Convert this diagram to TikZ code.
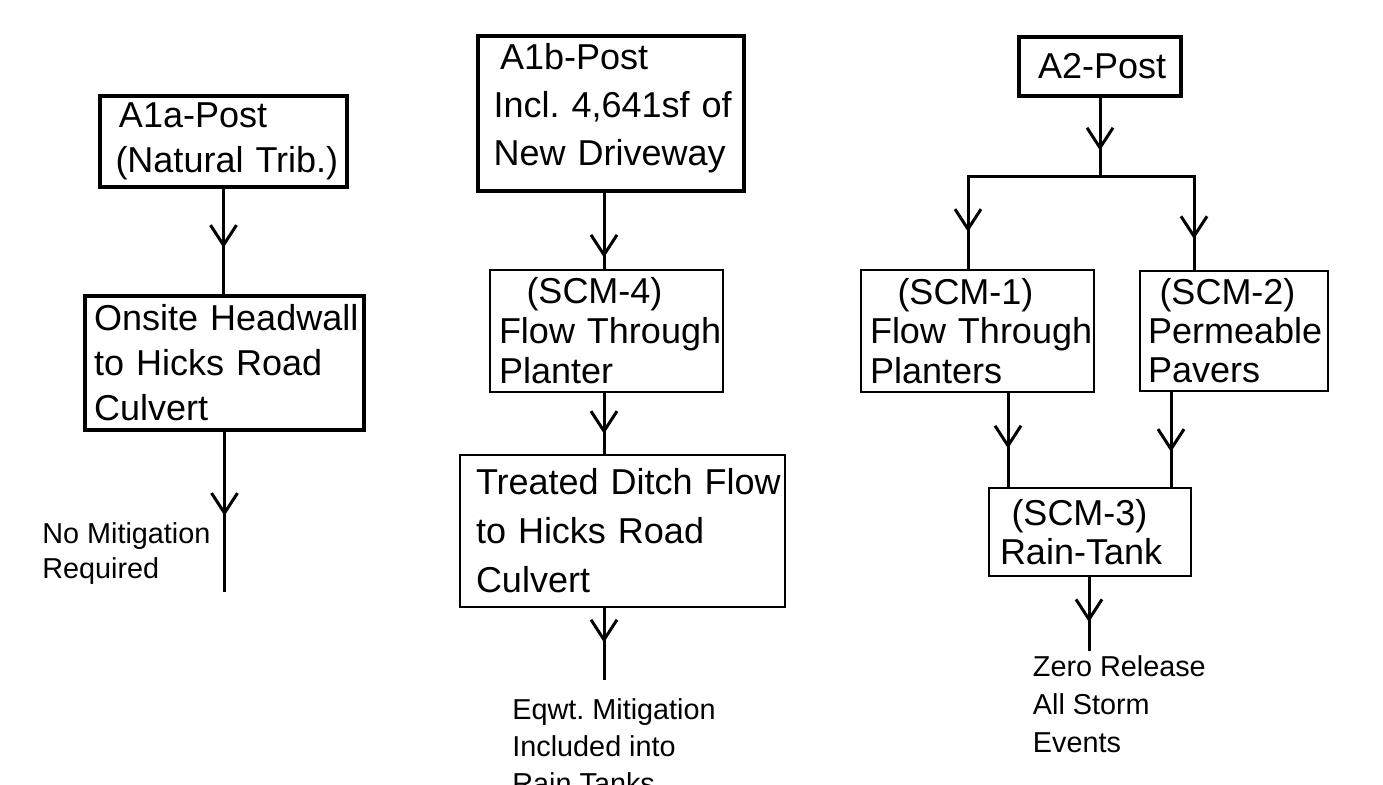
\documentclass[tikz,border=0pt]{standalone}
\usepackage{fontspec}
\setmainfont{Liberation Sans}
\usetikzlibrary{arrows.meta,decorations.markings}
\hyphenpenalty=10000
\exhyphenpenalty=10000
\frenchspacing

\begin{document}
\begin{tikzpicture}[x=0.5pt, y=-0.5pt,
  box/.style={draw, line width=1.6pt, inner sep=0pt, align=left, font=\fontsize{18pt}{#1}\selectfont},
  thinbox/.style={box=#1, line width=0.9pt},
  note/.style={inner sep=0pt, align=left, anchor=north west, font=\fontsize{14.4pt}{#1}\selectfont},
  flow/.style={line width=1.5pt},
  vtip/.style={postaction={decorate, decoration={markings, mark=at position #1 with {\arrow{Straight Barb[length=10pt, width=13pt]}}}}}]
  \useasboundingbox (0,0) rectangle (1383,784);

  % left column
  \node[box=22.5pt, minimum width=123.5pt, minimum height=45.5pt, text width=108pt] (a1a) at (223.5,141.5) {\hspace*{1.75pt}A1a-Post\\(Natural~Trib.)};
  \node[box=22.5pt, minimum width=139.5pt, minimum height=67pt, text width=130.3pt] (onsite) at (224.5,363) {Onsite~Headwall\\to~Hicks~Road\\Culvert};
  \coordinate (end1) at (224.5,592);
  \node[note=17.5pt] (nomit) at (42,522.2) {No Mitigation\\Required};

  \draw[flow, vtip=0.56] (a1a.south) -- (a1a.south |- onsite.north);
  \draw[flow, vtip=0.525] (onsite.south) -- (end1);

  % middle column
  \node[box=24pt, minimum width=133pt, minimum height=77.5pt, text width=117.4pt] (a1b) at (611,113.5) {\hspace*{3.2pt}A1b-Post\\Incl.~4,641sf~of\\New~Driveway\rule[-9.4pt]{0pt}{0pt}};
  \node[thinbox=20pt, minimum width=116.5pt, minimum height=61pt, text width=107.5pt] (scm4) at (606.5,331) {\hspace*{13.75pt}(SCM-4)\\Flow~Through\\Planter};
  \node[thinbox=24.5pt, minimum width=162.5pt, minimum height=76pt, text width=146.5pt] (treated) at (622.5,531) {Treated~Ditch~Flow\\to~Hicks~Road\\Culvert};
  \coordinate (end2) at (604,680);
  \node[note=18.5pt] (eqwt) at (512,698.2) {Eqwt. Mitigation\\Included into\\Rain Tanks};

  \draw[flow, vtip=0.85] (a1b.south -| end2) -- (scm4.north -| end2);
  \draw[flow, vtip=0.67] (scm4.south -| end2) -- (treated.north -| end2);
  \draw[flow, vtip=0.48] (treated.south -| end2) -- (end2);

  % right column
  \node[box=22.5pt, minimum width=81pt, minimum height=29.5pt, text width=62pt] (a2) at (1100,66.5) {A2-Post};
  \node[thinbox=19.75pt, minimum width=116.5pt, minimum height=61pt, text width=107.5pt] (scm1) at (977.5,331) {\hspace*{13.75pt}(SCM-1)\\Flow~Through\\Planters};
  \node[thinbox=19.5pt, minimum width=94pt, minimum height=60pt, text width=86pt] (scm2) at (1234,331) {\hspace*{5.75pt}(SCM-2)\\Permeable\\Pavers};
  \node[thinbox=19.5pt, minimum width=101pt, minimum height=44pt, text width=90pt] (scm3) at (1090,532) {\hspace*{5.75pt}(SCM-3)\\Rain-Tank};
  \coordinate (split) at (1100,176);
  \coordinate (jl) at (968,176);
  \coordinate (jr) at (1194,176);
  \coordinate (end3) at (1089,651);
  \node[note=19pt] (zero) at (1032.5,655.2) {Zero Release\\All Storm\\Events};

  \draw[flow, vtip=0.675] (a2.south) -- (split);
  \draw[flow, line cap=rect] (jl) -- (jr);
  \draw[flow, vtip=0.6] (jl) -- (jl |- scm1.north);
  \draw[flow, vtip=0.67] (jr) -- (jr |- scm2.north);
  \draw[flow, vtip=0.59] (scm1.south -| 1008,0) -- (scm3.north -| 1008,0);
  \draw[flow, vtip=0.63] (scm2.south -| 1171,0) -- (scm3.north -| 1171,0);
  \draw[flow, vtip=0.61] (scm3.south -| end3) -- (end3);
\end{tikzpicture}
\end{document}
